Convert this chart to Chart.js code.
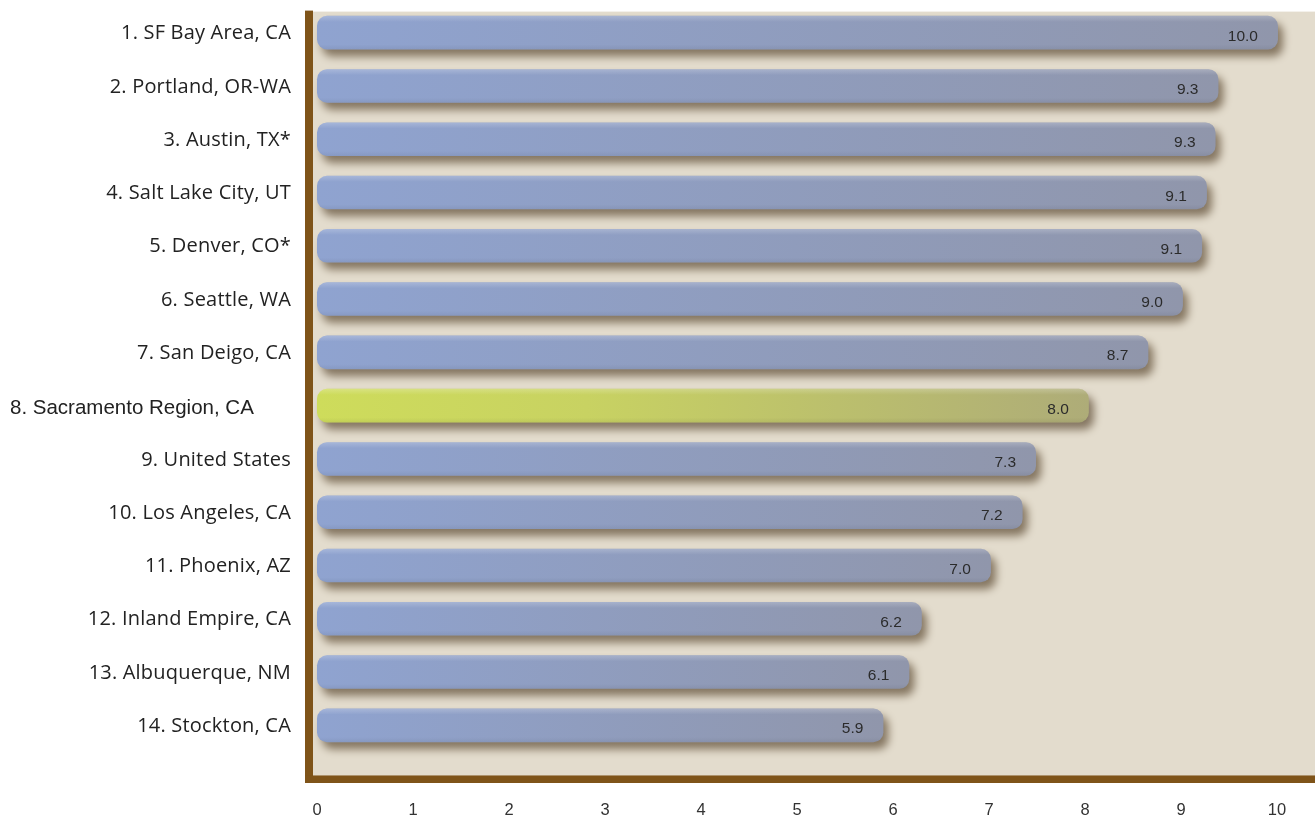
<!DOCTYPE html>
<html>
<head>
<meta charset="utf-8">
<script src="https://cdn.jsdelivr.net/npm/chart.js@4/dist/chart.umd.min.js"></script>
<style>
  html, body { margin: 0; padding: 0; background: #ffffff; }
  #wrap { width: 1315px; height: 820px; position: relative; }
</style>
</head>
<body>
<div id="wrap"><canvas id="c" width="1315" height="820"></canvas></div>
<script>
// ---- data ----
const categories = [
  '1. SF Bay Area, CA',
  '2. Portland, OR-WA',
  '3. Austin, TX*',
  '4. Salt Lake City, UT',
  '5. Denver, CO*',
  '6. Seattle, WA',
  '7. San Deigo, CA',
  '8. Sacramento Region, CA',
  '9. United States',
  '10. Los Angeles, CA',
  '11. Phoenix, AZ',
  '12. Inland Empire, CA',
  '13. Albuquerque, NM',
  '14. Stockton, CA'
];
// bar lengths as measured in the picture
const barValues = [10.01, 9.39, 9.36, 9.27, 9.22, 9.02, 8.66, 8.04, 7.49, 7.35, 7.02, 6.30, 6.17, 5.90];
// value labels as printed on the bars
const valueLabels = ['10.0', '9.3', '9.3', '9.1', '9.1', '9.0', '8.7', '8.0', '7.3', '7.2', '7.0', '6.2', '6.1', '5.9'];
const highlightIndex = 7;
const xTickValues = [0, 1, 2, 3, 4, 5, 6, 7, 8, 9, 10];

// ---- styles ----
const BEIGE = '#e3dccd';
const BROWN = '#7f5419';
const BLUE_L = '#8fa3d0';
const BLUE_R = '#9096ab';
const GREEN_L = '#cedc5b';
const GREEN_R = '#aeac78';

function barFill(context) {
  const chart = context.chart;
  const ca = chart.chartArea;
  const hi = context.dataIndex === highlightIndex;
  if (!ca) return hi ? GREEN_L : BLUE_L;
  const xs = chart.scales.x;
  const x0 = xs.getPixelForValue(0);
  const x1 = xs.getPixelForValue(barValues[context.dataIndex]);
  const g = chart.ctx.createLinearGradient(x0, 0, x1, 0);
  if (hi) {
    g.addColorStop(0, GREEN_L);
    g.addColorStop(0.35, '#c8d262');
    g.addColorStop(1, GREEN_R);
  } else {
    g.addColorStop(0, BLUE_L);
    g.addColorStop(1, BLUE_R);
  }
  return g;
}

const framePlugin = {
  id: 'frame',
  beforeDraw(chart) {
    const ctx = chart.ctx, ca = chart.chartArea;
    ctx.save();
    ctx.fillStyle = BEIGE;
    ctx.fillRect(ca.left - 4, ca.top + 5.6, chart.width - (ca.left - 4), ca.bottom + 23.4 - (ca.top + 5.6));
    ctx.fillStyle = BROWN;
    ctx.fillRect(ca.left - 12, ca.top + 4.6, 8, ca.bottom + 31 - (ca.top + 4.6));
    ctx.fillRect(ca.left - 12, ca.bottom + 23.4, chart.width - (ca.left - 12), 7.6);
    ctx.restore();
  },
  beforeDatasetsDraw(chart) {
    const ctx = chart.ctx;
    ctx.save();
    ctx.shadowColor = 'rgba(70, 50, 25, 0.6)';
    ctx.shadowBlur = 9;
    ctx.shadowOffsetX = 5;
    ctx.shadowOffsetY = 7;
  },
  afterDatasetsDraw(chart) {
    const ctx = chart.ctx;
    ctx.restore();
    const meta = chart.getDatasetMeta(0);
    // subtle top highlight on each bar
    meta.data.forEach((bar) => {
      const p = bar.getProps(['x', 'y', 'base', 'height'], true);
      const top = p.y - p.height / 2, h = p.height;
      const left = p.base, right = p.x;
      ctx.save();
      ctx.beginPath();
      if (ctx.roundRect) ctx.roundRect(left, top, right - left, h, 10); else ctx.rect(left, top, right - left, h);
      ctx.clip();
      const g = ctx.createLinearGradient(0, top, 0, top + h);
      g.addColorStop(0, 'rgba(255,255,255,0.22)');
      g.addColorStop(0.18, 'rgba(255,255,255,0.0)');
      g.addColorStop(0.85, 'rgba(0,0,0,0.0)');
      g.addColorStop(1, 'rgba(0,0,0,0.06)');
      ctx.fillStyle = g;
      ctx.fillRect(left, top, right - left, h);
      ctx.restore();
    });
    // value labels
    ctx.save();
    ctx.font = '15.5px "Liberation Sans", Arial, sans-serif';
    ctx.fillStyle = '#2b2b2b';
    ctx.textAlign = 'right';
    ctx.textBaseline = 'alphabetic';
    meta.data.forEach((bar, i) => {
      const p = bar.getProps(['x', 'y'], true);
      ctx.fillText(valueLabels[i], p.x - 20, p.y + 8);
    });
    ctx.restore();
    // category labels
    const ys = chart.scales.y;
    const ca = chart.chartArea;
    ctx.save();
    ctx.fillStyle = '#222222';
    ctx.textBaseline = 'middle';
    categories.forEach((lab, i) => {
      const y = ys.getPixelForTick(i);
      if (i === highlightIndex) {
        ctx.font = '20.5px "Liberation Sans", Arial, sans-serif';
        ctx.textAlign = 'left';
        try { ctx.letterSpacing = '0px'; } catch (e) {}
        ctx.fillText(lab, 10, y + 3);
      } else {
        ctx.font = '20px "Open Sans", sans-serif';
        ctx.textAlign = 'right';
        try { ctx.letterSpacing = '0.2px'; } catch (e) {}
        ctx.fillText(lab, ca.left - 26, y + 1);
      }
    });
    ctx.restore();
  }
};

new Chart(document.getElementById('c'), {
  type: 'bar',
  data: {
    labels: categories,
    datasets: [{
      data: barValues,
      backgroundColor: barFill,
      borderWidth: 0,
      borderRadius: 10,
      borderSkipped: false,
      barPercentage: 0.63,
      categoryPercentage: 1.0,
      clip: false
    }]
  },
  options: {
    indexAxis: 'y',
    responsive: false,
    animation: false,
    layout: { padding: { left: 317, right: 38, top: 6, bottom: 0 } },
    plugins: { legend: { display: false }, tooltip: { enabled: false } },
    scales: {
      x: {
        type: 'linear',
        min: 0,
        max: 10,
        afterBuildTicks(scale) { scale.ticks = xTickValues.map(v => ({ value: v })); },
        afterFit(scale) { scale.height = 68; scale.paddingLeft = 0; scale.paddingRight = 0; },
        grid: { display: false, drawTicks: false },
        border: { display: false },
        ticks: {
          padding: 49,
          color: '#333333',
          font: { family: '"Liberation Sans", Arial, sans-serif', size: 16.5 },
          maxRotation: 0
        }
      },
      y: {
        type: 'category',
        display: false
      }
    }
  },
  plugins: [framePlugin]
});
</script>
</body>
</html>
